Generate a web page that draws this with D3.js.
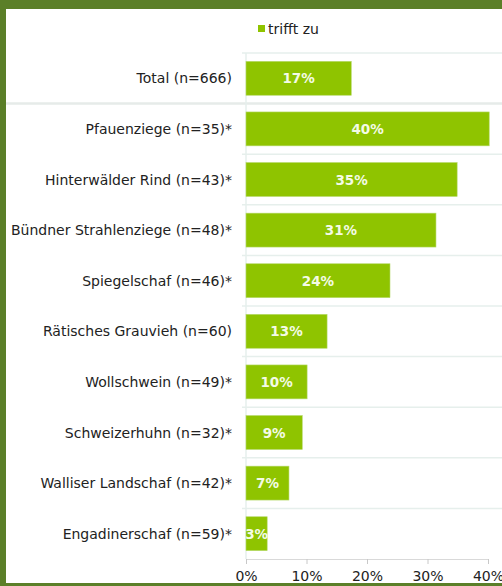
<!DOCTYPE html>
<html><head><meta charset="utf-8">
<script src="https://cdn.jsdelivr.net/npm/d3@7"></script>
<style>
html,body{margin:0;padding:0;background:#5b7f28;}
svg{display:block;}
text{font-family:"DejaVu Sans",Verdana,sans-serif;}
</style></head>
<body>
<svg id="c" width="502" height="586"></svg>
<script>
const categories = ["Total (n=666)","Pfauenziege (n=35)*","Hinterwälder Rind (n=43)*","Bündner Strahlenziege (n=48)*","Spiegelschaf (n=46)*","Rätisches Grauvieh (n=60)","Wollschwein (n=49)*","Schweizerhuhn (n=32)*","Walliser Landschaf (n=42)*","Engadinerschaf (n=59)*"];
const values = [17.4, 40.2, 34.9, 31.4, 23.8, 13.4, 10.1, 9.3, 7.1, 3.5];
const labels = ["17%","40%","35%","31%","24%","13%","10%","9%","7%","3%"];
const tickValues = [0,10,20,30,40];
const seriesName = "trifft zu";

const svg = d3.select("#c");
svg.append("rect").attr("x",0).attr("y",0).attr("width",502).attr("height",586).attr("fill","#5b7f28");
svg.append("rect").attr("x",6).attr("y",9).attr("width",496).attr("height",574).attr("fill","#ffffff");

const plotLeft = 246, plotTop = 53, plotBottom = 559;
const x = d3.scaleLinear().domain([0,40]).range([plotLeft, plotLeft+242]);
const y = d3.scaleBand().domain(categories).range([plotTop,plotBottom]).paddingInner(0.33).paddingOuter(0.165);
const step = y.step();

// separators
categories.forEach((c,i)=>{
  const yy = plotTop + step*i;
  if(i===1) svg.append("line").attr("x1",6).attr("x2",502).attr("y1",yy).attr("y2",yy).attr("stroke","#e6ebe9").attr("stroke-width",2.5);
  else svg.append("line").attr("x1",242).attr("x2",502).attr("y1",yy).attr("y2",yy).attr("stroke","#e6efec").attr("stroke-width",1.5);
});
svg.append("line").attr("x1",plotLeft).attr("x2",plotLeft).attr("y1",plotTop).attr("y2",plotBottom).attr("stroke","#e6efec").attr("stroke-width",1.5);

// bars
svg.selectAll("rect.bar").data(values).enter().append("rect").attr("class","bar")
  .attr("x",x(0)).attr("y",(d,i)=>y(categories[i])).attr("width",d=>x(d)-x(0)).attr("height",y.bandwidth())
  .attr("fill","#8fc400").attr("stroke","#b5d96a").attr("stroke-width",0.6);
svg.selectAll("text.val").data(values).enter().append("text").attr("class","val")
  .attr("x",d=>(x(0)+x(d))/2).attr("y",(d,i)=>y(categories[i])+y.bandwidth()/2+5)
  .attr("text-anchor","middle").attr("fill","#f4fbe6").attr("font-size","13.5px").attr("font-weight","bold")
  .text((d,i)=>labels[i]);

// category labels
svg.selectAll("text.cat").data(categories).enter().append("text").attr("class","cat")
  .attr("x",232).attr("y",d=>y(d)+y.bandwidth()/2+5).attr("text-anchor","end")
  .attr("fill","#222").attr("font-size","14px").text(d=>d);

// axis
const ax = svg.append("g").attr("transform",`translate(0,${plotBottom})`)
  .call(d3.axisBottom(x).tickValues(tickValues).tickFormat(d=>d+"%").tickSize(5).tickSizeOuter(0));
ax.select(".domain").attr("stroke","#d9d9d9");
ax.selectAll(".tick line").attr("stroke","#c8c8c8");
ax.selectAll(".tick text").attr("fill","#222").attr("font-size","14px").attr("font-family","DejaVu Sans, Verdana, sans-serif").attr("dy","1.0em");

// legend
svg.append("rect").attr("x",258).attr("y",25).attr("width",7).attr("height",7).attr("fill","#8fc400");
svg.append("text").attr("x",268).attr("y",34).attr("fill","#222").attr("font-size","14px").text(seriesName);
</script>
</body></html>
